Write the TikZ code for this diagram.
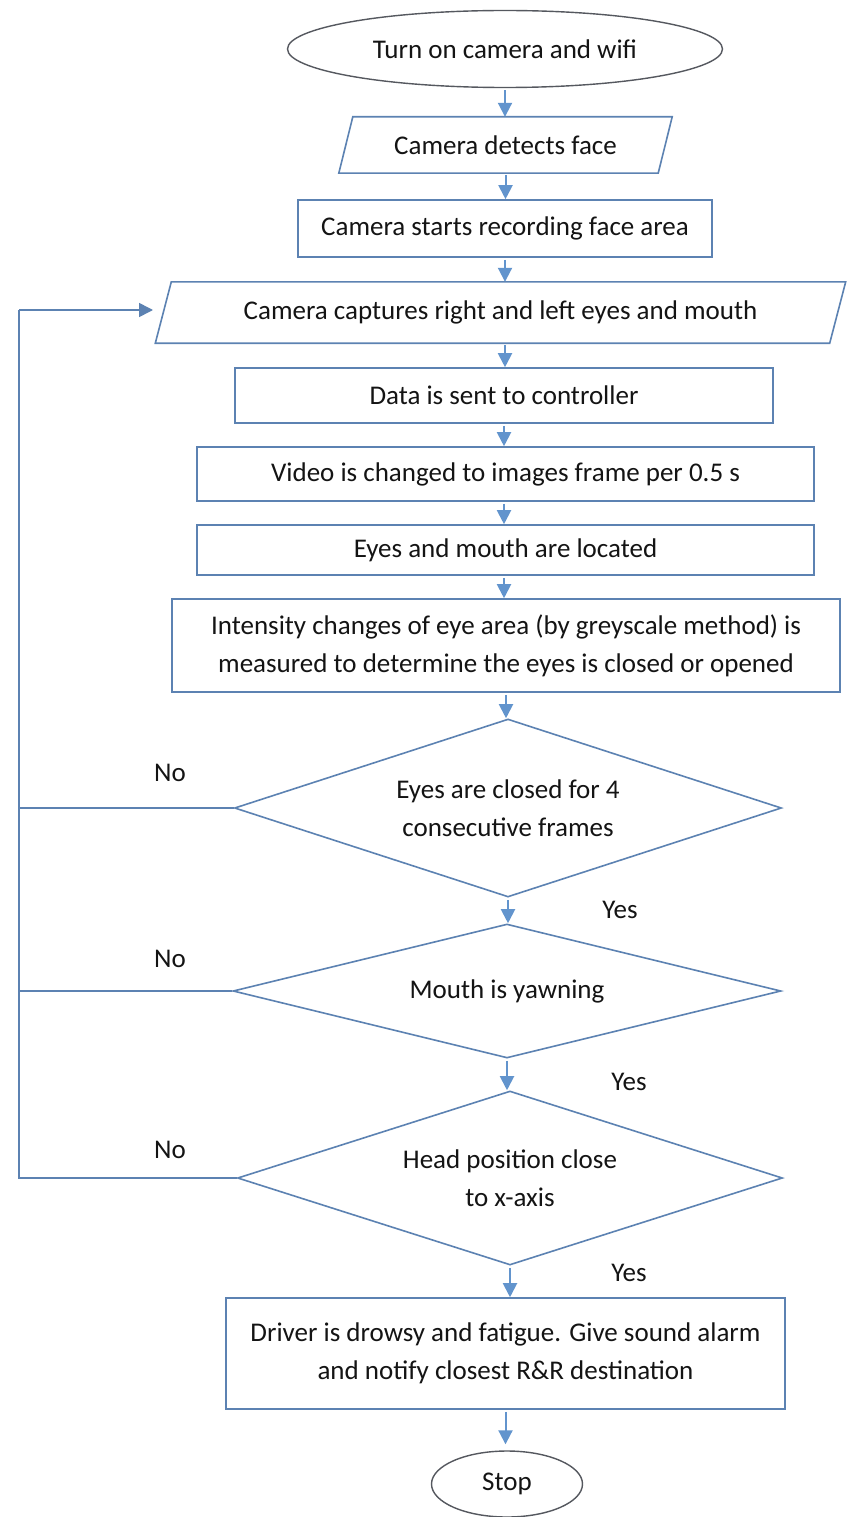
\documentclass[tikz,border=0pt]{standalone}
\usepackage{fontspec}
\setmainfont{Carlito}
\usetikzlibrary{shapes.geometric,arrows.meta}
\definecolor{boxcol}{RGB}{92,130,178}
\definecolor{arrcol}{RGB}{98,148,205}
\definecolor{ellcol}{RGB}{85,88,95}
\tikzset{
  txt/.style={font=\fontsize{27}{38}\selectfont, text=black!92, align=center, inner sep=0pt},
  procbox/.style={txt, draw=boxcol, line width=1.6pt, rectangle},
  iobox/.style={txt, draw=none, rectangle},
  termbox/.style={txt, draw=ellcol, line width=1.4pt, ellipse},
  decbox/.style={txt, draw=boxcol, line width=1.6pt, diamond},
  arr/.style={draw=arrcol, line width=2pt, shorten <=2pt, -{Triangle[length=14pt,width=14pt]}},
  loopline/.style={draw=boxcol, line width=1.6pt},
  lbl/.style={txt}
}
\begin{document}
\begin{tikzpicture}[x=1pt,y=-1pt]
\useasboundingbox (0,0) rectangle (846,1517);
\fill[white] (0,0) rectangle (846,1517);

\node[termbox, minimum width=435, minimum height=77] (start) at (505,49) {Turn on camera and wifi};

\node[iobox, minimum width=319, minimum height=56] (p1) at (505.5,145) {Camera detects face};
\draw[boxcol, line width=1.6pt] ([xshift=7]p1.north west) -- ([xshift=7]p1.north east)
  -- ([xshift=-7]p1.south east) -- ([xshift=-7]p1.south west) -- cycle;

\node[procbox, minimum width=414, minimum height=57] (r2) at (505,228.5) {Camera starts recording face area};

\node[iobox, minimum width=674, minimum height=61] (p3) at (500.5,312.5) {Camera captures right and left eyes and mouth};
\draw[boxcol, line width=1.6pt] ([xshift=8]p3.north west) -- ([xshift=8]p3.north east)
  -- ([xshift=-8]p3.south east) -- ([xshift=-8]p3.south west) -- cycle;

\node[procbox, minimum width=538, minimum height=55] (r4) at (504,395.5) {Data is sent to controller};
\node[procbox, minimum width=617, minimum height=54] (r5) at (505.5,474) {Video is changed to images frame per 0.5 s};
\node[procbox, minimum width=617, minimum height=50] (r6) at (505.5,550) {Eyes and mouth are located};
\node[procbox, minimum width=668, minimum height=93] (r7) at (506,645.5) {Intensity changes of eye area (by greyscale method) is\\measured to determine the eyes is closed or opened};

\node[decbox, shape aspect=3.07, minimum width=547, minimum height=178] (d1) at (508,808) {Eyes are closed for 4\\consecutive frames};
\node[decbox, shape aspect=4.09, minimum width=548, minimum height=134] (d2) at (507,991) {Mouth is yawning};
\node[decbox, shape aspect=3.13, minimum width=545, minimum height=174] (d3) at (510,1178) {Head position close\\to x-axis};

\node[procbox, minimum width=559, minimum height=111] (r8) at (505.5,1353.5) {Driver is drowsy and fatigue. Give sound alarm\\and notify closest R\&R destination};

\node[termbox, minimum width=151, minimum height=66] (stop) at (507,1484) {Stop};

\node[lbl] (no1) at (170,773) {No};
\node[lbl] (no2) at (170,959) {No};
\node[lbl] (no3) at (170,1150) {No};
\node[lbl] (yes1) at (620,910) {Yes};
\node[lbl] (yes2) at (629,1082) {Yes};
\node[lbl] (yes3) at (629,1273) {Yes};

\draw[arr] (start.south) -- (start.south |- p1.north);
\draw[arr] (p1.south) -- (p1.south |- r2.north);
\draw[arr] (r2.south) -- (r2.south |- p3.north);
\draw[arr] (r2.south |- p3.south) -- (r2.south |- r4.north);
\draw[arr] (r4.south) -- (r4.south |- r5.north);
\draw[arr] (r4.south |- r5.south) -- (r4.south |- r6.north);
\draw[arr] (r4.south |- r6.south) -- (r4.south |- r7.north);
\draw[arr] (r7.south) -- (r7.south |- d1.north);
\draw[arr] (d1.south) -- (d1.south |- d2.north);
\draw[arr] (d2.south) -- (d2.south |- d3.north);
\draw[arr] (d3.south) -- (d3.south |- r8.north);
\draw[arr, shorten >=6pt] (r8.south) -- (r8.south |- stop.north);

\coordinate (lc) at (19,310);
\coordinate (loopin) at (153,310);
\draw[loopline] (d3.west) -| (lc);
\draw[loopline] (d1.west) -- (d1.west -| lc);
\draw[loopline] (d2.west) -- (d2.west -| lc);
\draw[arr, draw=boxcol, line width=1.6pt, shorten <=0pt] (lc) -- (loopin);
\end{tikzpicture}
\end{document}
